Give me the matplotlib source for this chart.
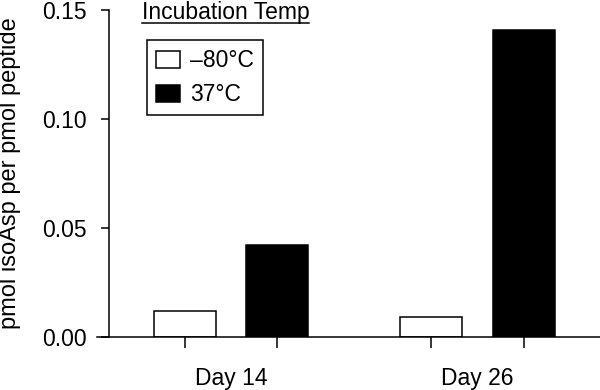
import matplotlib
matplotlib.use("Agg")
import matplotlib.pyplot as plt
from matplotlib.patches import Patch
from matplotlib.lines import Line2D
import numpy as np

plt.rcParams['font.family'] = ['Liberation Sans', 'DejaVu Sans']
plt.rcParams['font.size'] = 16.5

# datos
dias = ['Day 14', 'Day 26']
temp_frio = [0.012, 0.009]      # -80 °C
temp_37 = [0.042, 0.141]        # 37 °C
etiquetas = ['\u201380\u00b0C', '37\u00b0C']
ticks_y = [0.00, 0.05, 0.10, 0.15]

fig = plt.figure(figsize=(6, 3.9), dpi=100)
ax = fig.add_axes([96.7/600, 1 - 336.7/390, 1 - 96.7/600, (336.7 - 10)/390])

x = np.arange(len(dias))
desp = 0.1875
ancho = 0.2516
lw = 1.1
ax.bar(x - desp, temp_frio, ancho, color='white', edgecolor='black', linewidth=lw)
ax.bar(x + desp, temp_37, ancho, color='black', edgecolor='black', linewidth=lw)

ax.set_xlim(-0.5455, 1.497)
ax.set_ylim(0, 0.15)
ax.set_yticks(ticks_y)
ax.set_yticklabels([f'{v:.2f}' for v in ticks_y])

# ticks bajo cada barra, etiquetas en el centro del grupo
ax.set_xticks(np.concatenate([x - desp, x + desp]))
ax.set_xticklabels([])
ax.set_xticks(x, minor=True)
ax.set_xticklabels(dias, minor=True)
ax.tick_params(axis='x', which='major', length=8, width=lw, direction='out')
ax.tick_params(axis='x', which='minor', length=0, pad=21.5)
ax.tick_params(axis='y', length=6, width=lw, pad=10)

for s in ['top', 'right']:
    ax.spines[s].set_visible(False)
ax.spines['left'].set_position(('axes', (109 - 96.7)/503.3))
ax.spines['left'].set_linewidth(lw)
ax.spines['bottom'].set_linewidth(lw)

ax.set_ylabel('pmol isoAsp per pmol peptide', fontsize=17)
ax.yaxis.set_label_coords((21 - 96.7)/503.3, 0.5)

# leyenda con titulo subrayado fuera del marco
titulo = fig.text(141.7/600, 1 - 19.3/390, 'Incubation Temp', ha='left', va='baseline')
fig.canvas.draw()
bb = titulo.get_window_extent().transformed(fig.transFigure.inverted())
fig.add_artist(Line2D([bb.x0, bb.x1], [1 - 23.3/390] * 2, color='black', lw=1.1,
                      transform=fig.transFigure))

manejadores = [Patch(facecolor='white', edgecolor='black', linewidth=lw),
               Patch(facecolor='black', edgecolor='black', linewidth=lw)]
leg = ax.legend(manejadores, etiquetas, loc='upper left',
                bbox_to_anchor=(146.7/600, 1 - 40/390), bbox_transform=fig.transFigure,
                borderaxespad=0, fancybox=False, framealpha=1, edgecolor='black',
                handlelength=1.05, handleheight=0.75, handletextpad=0.45,
                labelspacing=0.48, borderpad=0.4)
leg.get_frame().set_linewidth(lw)

fig.savefig('out.png', dpi=100)
